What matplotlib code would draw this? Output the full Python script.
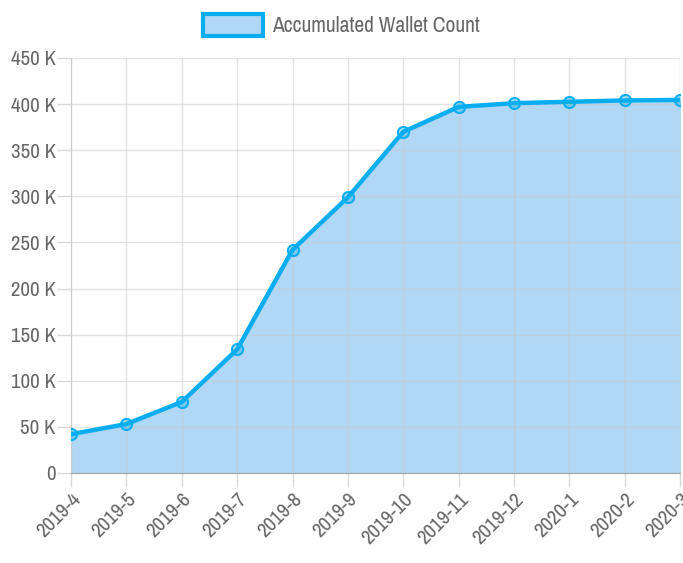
import matplotlib
matplotlib.use("Agg")
import matplotlib.pyplot as plt
import matplotlib.ticker as ticker
from matplotlib.patches import Patch
from matplotlib import font_manager

months = ['2019-4', '2019-5', '2019-6', '2019-7', '2019-8', '2019-9',
          '2019-10', '2019-11', '2019-12', '2020-1', '2020-2', '2020-3']
wallets = [42000, 53000, 77000, 134000, 242000, 299000,
           370000, 397000, 401000, 402500, 404000, 404500]

# look for a narrow sans, the reference text is condensed
fam, stretch = 'Liberation Sans', 'normal'
found = []
for f in font_manager.fontManager.ttflist:
    if 'Narrow' in f.name or 'Condensed' in f.name:
        found.append((f.name, 'normal'))
    elif f.stretch in ('condensed', 'semi-condensed', 'extra-condensed') or f.stretch in (300, 400):
        found.append((f.name, f.stretch))
if found:
    fam, stretch = sorted(found)[0]
plt.rcParams['font.family'] = [fam, 'DejaVu Sans']
plt.rcParams['font.stretch'] = stretch

line_c = '#0aaef0'
fill_c = '#b0d7f5'
text_c = '#666666'

fig = plt.figure(figsize=(6.83, 5.63), dpi=100)
ax = fig.add_axes([0.104, 0.160, 0.892, 0.737])

x = list(range(len(months)))
ax.fill_between(x, 0, wallets, color=fill_c, zorder=1)
ax.plot(x, wallets, color=line_c, lw=3.2, zorder=3)
ax.plot(x, wallets, 'o', ms=8, mfc=(0.04, 0.68, 0.94, 0.35), mec=line_c, mew=1.5, zorder=4)

ax.set_xlim(0, len(months) - 1)
ax.set_ylim(0, 450000)
ax.yaxis.set_major_locator(ticker.MultipleLocator(50000))
ax.yaxis.set_major_formatter(ticker.FuncFormatter(
    lambda v, p: '0' if v == 0 else '%d K' % (v / 1000)))
ax.set_xticks(x)
ax.set_xticklabels(months, rotation=45, ha='right', rotation_mode='anchor')

ax.grid(True, color='#c8c8c8', lw=1, alpha=0.5, zorder=2)
ax.set_axisbelow(False)

for s in ['top', 'right']:
    ax.spines[s].set_visible(False)
ax.spines['left'].set_color('#d0d0d0')
ax.spines['bottom'].set_color('#a0a0a0')
ax.spines['bottom'].set_zorder(5)
ax.tick_params(axis='both', colors='#d8d8d8', labelcolor=text_c, labelsize=15, width=1)
ax.tick_params(axis='y', length=10, pad=1)
ax.tick_params(axis='x', length=10, pad=2)

handle = Patch(facecolor=fill_c, edgecolor=line_c, linewidth=3)
fig.legend([handle], ['Accumulated Wallet Count'], loc='center', bbox_to_anchor=(0.5, 0.956),
           frameon=False, fontsize=15.5, handlelength=2.8, handleheight=1.2,
           handletextpad=0.4, labelcolor=text_c)

fig.savefig('out.png', dpi=100)
